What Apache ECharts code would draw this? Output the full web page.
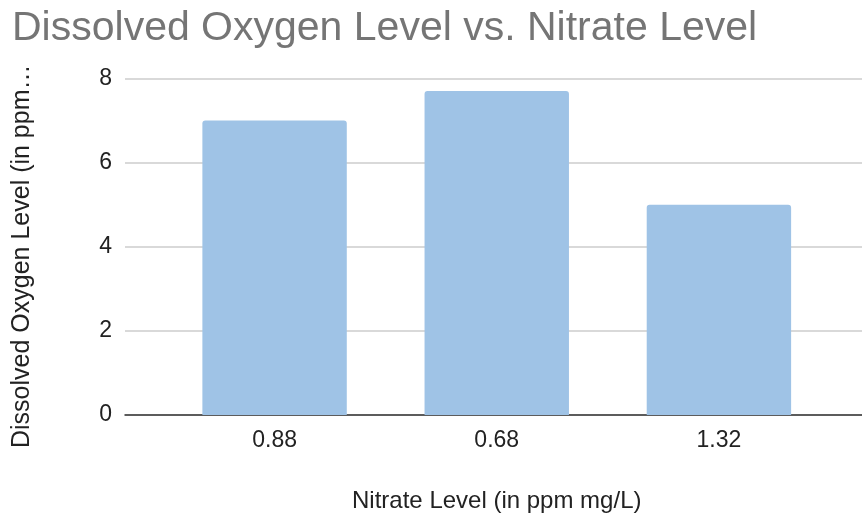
<!DOCTYPE html>
<html>
<head>
<meta charset="utf-8">
<script src="https://cdn.jsdelivr.net/npm/echarts@6/dist/echarts.min.js"></script>
<style>
  html, body { margin: 0; padding: 0; background: #fff; }
  #chart { width: 862px; height: 517px; }
</style>
</head>
<body>
<div id="chart"></div>
<script>
// Nitrate readings (category labels) and dissolved oxygen measured at each
const nitrateLevels = ['0.88', '0.68', '1.32'];
const oxygenLevels = [7, 7.7, 5];
const yTicks = [0, 2, 4, 6, 8];

const FONT = '"Liberation Sans", Arial, Helvetica, sans-serif';
const yMin = yTicks[0];
const yMax = yTicks[yTicks.length - 1];
const yStep = yTicks[1] - yTicks[0];

const chart = echarts.init(document.getElementById('chart'), null, { renderer: 'canvas' });

chart.setOption({
  animation: false,
  backgroundColor: '#ffffff',
  textStyle: { fontFamily: FONT },
  title: {
    text: 'Dissolved Oxygen Level vs. Nitrate Level',
    left: 7,
    top: 3,
    textStyle: { fontFamily: FONT, fontSize: 41, fontWeight: 'normal', color: '#757575' }
  },
  grid: [
    // full-width plot frame: gridlines, y labels, baseline
    { left: 125, right: 0, top: 78.5, bottom: 102, outerBoundsMode: 'none', containLabel: false },
    // inner band where the bars sit
    { left: 163.5, right: 32, top: 78.5, bottom: 102, outerBoundsMode: 'none', containLabel: false }
  ],
  xAxis: [
    {
      gridIndex: 0,
      type: 'category',
      data: nitrateLevels,
      axisLabel: { show: false },
      axisTick: { show: false },
      axisLine: { show: true, lineStyle: { color: '#333333', width: 1.5 } },
      splitLine: { show: false }
    },
    {
      gridIndex: 1,
      type: 'category',
      data: nitrateLevels,
      axisLine: { show: false },
      axisTick: { show: false },
      axisLabel: { color: '#222222', fontSize: 23, margin: 14, fontFamily: FONT },
      name: 'Nitrate Level (in ppm mg/L)',
      nameLocation: 'middle',
      nameGap: 74,
      nameTextStyle: { color: '#222222', fontSize: 24, fontFamily: FONT }
    }
  ],
  yAxis: [
    {
      gridIndex: 0,
      type: 'value',
      min: yMin,
      max: yMax,
      interval: yStep,
      axisLine: { show: false },
      axisTick: { show: false },
      axisLabel: { color: '#222222', fontSize: 23, margin: 13, fontFamily: FONT },
      splitLine: { show: true, lineStyle: { color: '#cccccc', width: 1.5 } },
      name: 'Dissolved Oxygen Level (in ppm…',
      nameLocation: 'middle',
      nameGap: 90,
      nameRotate: 90,
      nameTextStyle: { color: '#222222', fontSize: 25, fontFamily: FONT, padding: [0, 19, 0, 0] }
    },
    {
      gridIndex: 1,
      type: 'value',
      min: yMin,
      max: yMax,
      interval: yStep,
      show: false,
      splitLine: { show: false }
    }
  ],
  series: [
    {
      type: 'bar',
      xAxisIndex: 1,
      yAxisIndex: 1,
      data: oxygenLevels,
      barCategoryGap: '35%',
      itemStyle: { color: '#9fc3e6', borderRadius: [3, 3, 0, 0] },
      z: 3
    }
  ]
});
</script>
</body>
</html>
